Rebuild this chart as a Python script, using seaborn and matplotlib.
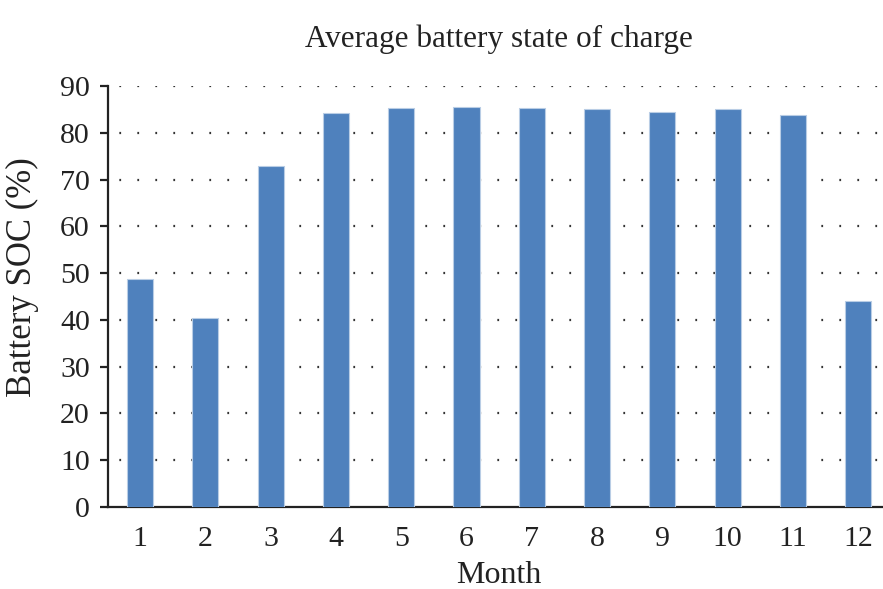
import matplotlib
matplotlib.use("Agg")
import matplotlib.pyplot as plt
import seaborn as sns
import pandas as pd

months = ["1", "2", "3", "4", "5", "6", "7", "8", "9", "10", "11", "12"]
soc = [48.7, 40.4, 72.9, 84.2, 85.3, 85.5, 85.3, 85.0, 84.5, 85.0, 83.9, 44.0]
yticks = [0, 10, 20, 30, 40, 50, 60, 70, 80, 90]

sns.set_theme(style="white")
plt.rcParams["font.family"] = ["Liberation Serif", "DejaVu Serif"]

df = pd.DataFrame({"Month": months, "SOC": soc})

fig = plt.figure(figsize=(8.83, 5.89), dpi=100)
ax = fig.add_axes([0.1223, 0.1392, 0.886, 0.7148])
sns.barplot(data=df, x="Month", y="SOC", color="#4F81BD", saturation=1,
            width=0.4, edgecolor="#B9CDE5", linewidth=0.8, ax=ax, zorder=3)

ax.set_ylim(0, 90)
ax.set_xlim(-0.49, 11.49)
ax.set_yticks(yticks)
ax.set_yticklabels([str(v) for v in yticks])
for v in yticks[1:]:
    ax.axhline(v, color="#333333", linestyle=(3, (0.8, 7.3)), linewidth=1.6, zorder=1)

for s in ["top", "right"]:
    ax.spines[s].set_visible(False)
for s in ["left", "bottom"]:
    ax.spines[s].set_color("#222222")
    ax.spines[s].set_linewidth(1.6)

ax.tick_params(axis="y", which="major", direction="out", length=6, width=1.6,
               color="#222222", left=True, labelsize=21.5, labelcolor="#222222", pad=7)
ax.tick_params(axis="x", which="major", bottom=False, labelsize=21.5,
               labelcolor="#222222", pad=8)

ax.set_xlabel("Month", fontsize=23, color="#222222", labelpad=6.5)
ax.set_ylabel("Battery SOC (%)", fontsize=25, color="#222222")
ax.yaxis.set_label_coords(-0.088, 0.545)
ax.set_title("Average battery state of charge", fontsize=22.5, color="#222222", pad=28)

fig.savefig("out.png", dpi=100)
